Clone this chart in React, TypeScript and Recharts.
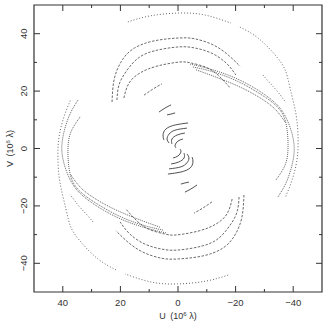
import React from "react";
import { LineChart, Line, XAxis, YAxis, ReferenceArea, Label } from "recharts";

type Pt = { u: number; v: number };
const pts = (a: number[][]): Pt[] => a.map(([u, v]) => ({ u, v }));

// tick values (10^6 lambda)
const uTicks = [40, 30, 20, 10, 0, -10, -20, -30, -40];
const vTicks = [-40, -30, -20, -10, 0, 10, 20, 30, 40];

// outer track
const outerTop = pts([[17.4, 44.1], [9.7, 46.2], [-0.3, 47.2], [-9.4, 46.5], [-18.4, 43.7]]);
const outerBottom = pts([[-17.4, -44.1], [-9.7, -46.2], [0.3, -47.2], [9.4, -46.5], [18.4, -43.7]]);
const outerRight = pts([
  [-21.5, 42.3], [-27.8, 38.5], [-33.7, 32.6], [-37.2, 27.4], [-38.9, 21.1],
  [-41.0, 11.7], [-41.7, 3.0], [-41.3, -4.0], [-39.6, -11.0], [-37.2, -17.2],
]);
const outerLeft = pts([
  [21.5, -42.3], [27.8, -38.5], [33.7, -32.6], [37.2, -27.4], [38.9, -21.1],
  [41.0, -11.7], [41.7, -3.0], [41.3, 4.0], [39.6, 11.0], [37.2, 17.2],
]);

// middle tracks
const arcB = pts([
  [22.9, 16.2], [22.2, 23.9], [19.8, 30.1], [15.6, 34.7], [8.3, 37.5],
  [-0.3, 38.5], [-5.9, 38.2], [-12.2, 36.1], [-17.4, 32.6], [-21.5, 28.7],
]);
const arcBLo = pts([
  [-22.9, -16.2], [-22.2, -23.9], [-19.8, -30.1], [-15.6, -34.7], [-8.3, -37.5],
  [0.3, -38.5], [5.9, -38.2], [12.2, -36.1], [17.4, -32.6], [21.5, -28.7],
]);
const arcC = pts([
  [21.2, 16.9], [20.5, 22.1], [18.1, 26.7], [14.2, 31.2], [8.3, 34.0],
  [-0.3, 35.4], [-5.9, 35.0], [-11.5, 33.3], [-16.7, 29.8], [-20.1, 25.6],
]);
const arcCLo = pts([
  [-21.2, -16.9], [-20.5, -22.1], [-18.1, -26.7], [-14.2, -31.2], [-8.3, -34.0],
  [0.3, -35.4], [5.9, -35.0], [11.5, -33.3], [16.7, -29.8], [20.1, -25.6],
]);
const arcD = pts([
  [18.8, 17.6], [17.0, 22.8], [13.2, 26.3], [7.3, 28.7], [-0.3, 30.1],
  [-4.5, 29.8], [-10.4, 28.0], [-14.9, 24.6], [-18.1, 21.1],
]);
const arcDLo = pts([
  [-18.8, -17.6], [-17.0, -22.8], [-13.2, -26.3], [-7.3, -28.7], [0.3, -30.1],
  [4.5, -29.8], [10.4, -28.0], [14.9, -24.6], [18.1, -21.1],
]);
const arcE = pts([[11.8, 18.6], [8.7, 20.7], [5.6, 22.5]]);
const arcELo = pts([[-11.8, -18.6], [-8.7, -20.7], [-5.6, -22.5]]);

// dense band
const bandF1 = pts([
  [-4.2, 29.4], [-11.1, 27.7], [-19.1, 24.9], [-26.0, 21.4], [-31.3, 17.9], [-35.4, 14.1],
  [-38.5, 8.5], [-40.3, 1.2], [-39.6, -5.7], [-37.5, -12.0], [-34.7, -16.9],
]);
const bandF1Lo = pts([
  [4.2, -29.4], [11.1, -27.7], [19.1, -24.9], [26.0, -21.4], [31.3, -17.9], [35.4, -14.1],
  [38.5, -8.5], [40.3, -1.2], [39.6, 5.7], [37.5, 12.0], [34.7, 16.9],
]);
const bandF2 = pts([
  [-5.2, 28.4], [-12.2, 26.7], [-20.5, 23.5], [-27.4, 19.7], [-32.6, 16.2],
  [-36.1, 12.4], [-37.8, 7.1], [-38.2, 0.2], [-37.2, -5.7], [-34.0, -11.0],
]);
const bandF2Lo = pts([
  [5.2, -28.4], [12.2, -26.7], [20.5, -23.5], [27.4, -19.7], [32.6, -16.2],
  [36.1, -12.4], [37.8, -7.1], [38.2, -0.2], [37.2, 5.7], [34.0, 11.0],
]);
const bandF3 = pts([[-6.3, 27.4], [-13.9, 24.6], [-22.2, 21.1], [-29.2, 17.2], [-34.0, 13.4], [-37.2, 9.2]]);
const bandF3Lo = pts([[6.3, -27.4], [13.9, -24.6], [22.2, -21.1], [29.2, -17.2], [34.0, -13.4], [37.2, -9.2]]);
const arcG = pts([[-29.5, 25.6], [-31.9, 22.8], [-34.7, 19.7], [-37.5, 15.9]]);
const arcGLo = pts([[29.5, -25.6], [31.9, -22.8], [34.7, -19.7], [37.5, -15.9]]);

// short baselines near the centre
const dashH1 = pts([[6.6, 12.7], [4.5, 14.1], [2.4, 15.2]]);
const dashH1Lo = pts([[-6.6, -12.7], [-4.5, -14.1], [-2.4, -15.2]]);
const dashH2 = pts([[3.8, 11.7], [2.4, 12.0], [1.0, 12.4]]);
const dashH2Lo = pts([[-3.8, -11.7], [-2.4, -12.0], [-1.0, -12.4]]);
const core1 = pts([[-3.5, 8.9], [1.0, 8.2], [4.2, 6.8], [5.2, 4.7], [4.9, 3.0]]);
const core1Lo = pts([[3.5, -8.9], [-1.0, -8.2], [-4.2, -6.8], [-5.2, -4.7], [-4.9, -3.0]]);
const core2 = pts([[-3.1, 7.1], [1.0, 6.4], [3.1, 5.0], [3.8, 3.3], [3.1, 1.9]]);
const core2Lo = pts([[3.1, -7.1], [-1.0, -6.4], [-3.1, -5.0], [-3.8, -3.3], [-3.1, -1.9]]);
const core3 = pts([[-2.4, 5.4], [0.3, 4.7], [2.1, 3.3], [2.1, 1.6]]);
const core3Lo = pts([[2.4, -5.4], [-0.3, -4.7], [-2.1, -3.3], [-2.1, -1.6]]);
const core4 = pts([[-1.7, 3.3], [0, 2.6], [1.0, 1.2], [0.7, 0.2]]);
const core4Lo = pts([[1.7, -3.3], [0, -2.6], [-1.0, -1.2], [-0.7, -0.2]]);

const OUTER = { stroke: "#555", strokeWidth: 0.9, strokeDasharray: "1 2" };
const ARC = { stroke: "#444", strokeWidth: 0.8, strokeDasharray: "2.5 1.5" };
const BAND = { stroke: "#3a3a3a", strokeWidth: 0.8, strokeDasharray: "1 1" };
const CORE = { stroke: "#333", strokeWidth: 0.85 };

const tracks = [
  { id: "outerTop", data: outerTop, s: OUTER },
  { id: "outerBottom", data: outerBottom, s: OUTER },
  { id: "outerRight", data: outerRight, s: OUTER },
  { id: "outerLeft", data: outerLeft, s: OUTER },
  { id: "arcB", data: arcB, s: ARC },
  { id: "arcBLo", data: arcBLo, s: ARC },
  { id: "arcC", data: arcC, s: ARC },
  { id: "arcCLo", data: arcCLo, s: ARC },
  { id: "arcD", data: arcD, s: ARC },
  { id: "arcDLo", data: arcDLo, s: ARC },
  { id: "arcE", data: arcE, s: ARC },
  { id: "arcELo", data: arcELo, s: ARC },
  { id: "bandF1", data: bandF1, s: BAND },
  { id: "bandF1Lo", data: bandF1Lo, s: BAND },
  { id: "bandF2", data: bandF2, s: BAND },
  { id: "bandF2Lo", data: bandF2Lo, s: BAND },
  { id: "bandF3", data: bandF3, s: BAND },
  { id: "bandF3Lo", data: bandF3Lo, s: BAND },
  { id: "arcG", data: arcG, s: OUTER },
  { id: "arcGLo", data: arcGLo, s: OUTER },
  { id: "dashH1", data: dashH1, s: CORE },
  { id: "dashH1Lo", data: dashH1Lo, s: CORE },
  { id: "dashH2", data: dashH2, s: CORE },
  { id: "dashH2Lo", data: dashH2Lo, s: CORE },
  { id: "core1", data: core1, s: CORE },
  { id: "core1Lo", data: core1Lo, s: CORE },
  { id: "core2", data: core2, s: CORE },
  { id: "core2Lo", data: core2Lo, s: CORE },
  { id: "core3", data: core3, s: CORE },
  { id: "core3Lo", data: core3Lo, s: CORE },
  { id: "core4", data: core4, s: CORE },
  { id: "core4Lo", data: core4Lo, s: CORE },
];

const W = 327;
const H = 331;
const PLOT_W = 288;
const PLOT_H = 287;
const AXIS = "#333";
const FONT = "'Liberation Sans', Arial, sans-serif";

const fmt = (v: number) => (v < 0 ? `\u2212${-v}` : `${v}`);

// bottom axis ticks, mirrored on the top edge, pointing inward
const XTick = (props: any) => {
  const { x, y, payload } = props;
  const major = payload.value % 20 === 0;
  const len = major ? 6 : 3;
  return (
    <g>
      <line x1={x} y1={y} x2={x} y2={y - len} stroke={AXIS} />
      <line x1={x} y1={y - PLOT_H} x2={x} y2={y - PLOT_H + len} stroke={AXIS} />
      {major && (
        <text x={x} y={y + 14} textAnchor="middle" fontSize={9.5} fontFamily={FONT} fill="#333">
          {fmt(payload.value)}
        </text>
      )}
    </g>
  );
};

// left axis ticks, mirrored on the right edge, labels rotated
const YTick = (props: any) => {
  const { x, y, payload } = props;
  const major = payload.value % 20 === 0;
  const len = major ? 6 : 3;
  const lx = x - 7;
  return (
    <g>
      <line x1={x} y1={y} x2={x + len} y2={y} stroke={AXIS} />
      <line x1={x + PLOT_W} y1={y} x2={x + PLOT_W - len} y2={y} stroke={AXIS} />
      {major && (
        <text
          x={lx}
          y={y}
          transform={`rotate(-90 ${lx} ${y})`}
          textAnchor="middle"
          fontSize={9.5}
          fontFamily={FONT}
          fill="#333"
        >
          {fmt(payload.value)}
        </text>
      )}
    </g>
  );
};

const AxisTitle = ({ letter, cx, cy, rotate }: { letter: string; cx: number; cy: number; rotate?: boolean }) => (
  <text
    x={cx}
    y={cy}
    transform={rotate ? `rotate(-90 ${cx} ${cy})` : undefined}
    textAnchor="middle"
    fontSize={9}
    fontFamily={FONT}
    fill="#333"
  >
    <tspan>{letter}{"\u2002"}(10</tspan>
    <tspan dy={-3} fontSize={6}>6</tspan>
    <tspan dy={3}>{" \u03bb)"}</tspan>
  </text>
);

export default function App() {
  return (
    <div style={{ position: "absolute", left: 0, top: 0, background: "#fff" }}>
      <LineChart width={W} height={H} margin={{ top: 5, right: 5, left: 0, bottom: 0 }}>
        <XAxis
          dataKey="u"
          type="number"
          domain={[-50, 50]}
          reversed
          allowDataOverflow
          ticks={uTicks}
          interval={0}
          height={39}
          tickSize={0}
          tickMargin={0}
          tickLine={false}
          axisLine={false}
          tick={<XTick />}
        >
          <Label
            content={(p: any) => (
              <AxisTitle letter="U" cx={p.viewBox.x + p.viewBox.width / 2} cy={p.viewBox.y + 27} />
            )}
          />
        </XAxis>
        <YAxis
          dataKey="v"
          type="number"
          domain={[-50, 50]}
          allowDataOverflow
          ticks={vTicks}
          interval={0}
          width={34}
          tickSize={0}
          tickMargin={0}
          tickLine={false}
          axisLine={false}
          tick={<YTick />}
        >
          <Label
            content={(p: any) => (
              <AxisTitle letter="V" cx={13} cy={p.viewBox.y + p.viewBox.height / 2} rotate />
            )}
          />
        </YAxis>
        <ReferenceArea x1={50} x2={-50} y1={-50} y2={50} fill="none" stroke={AXIS} strokeWidth={1.2} />
        {tracks.map((t) => (
          <Line
            key={t.id}
            name={t.id}
            data={t.data}
            dataKey="v"
            type="natural"
            dot={false}
            activeDot={false}
            isAnimationActive={false}
            {...t.s}
          />
        ))}
      </LineChart>
    </div>
  );
}
